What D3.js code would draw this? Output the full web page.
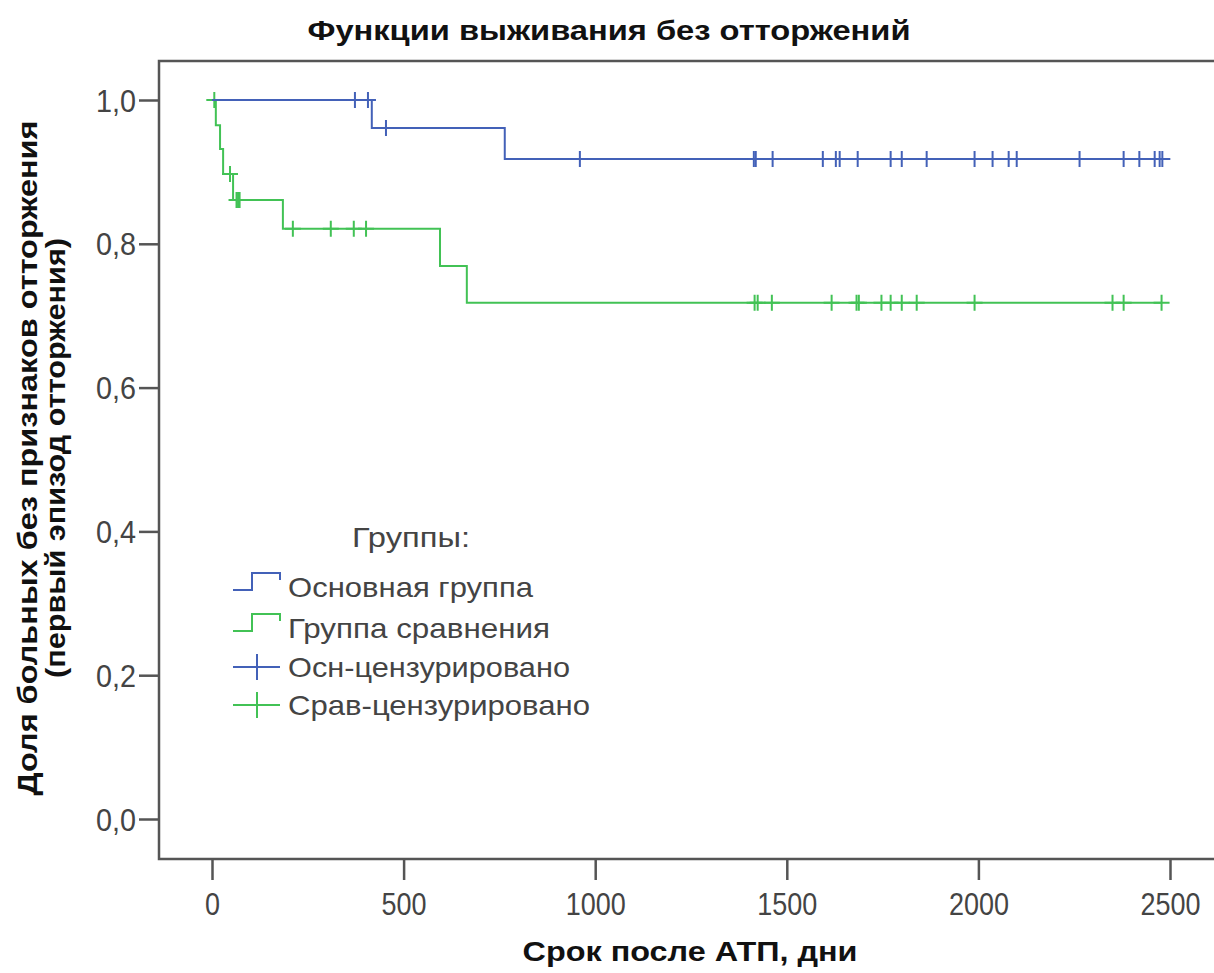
<!DOCTYPE html>
<html>
<head>
<meta charset="utf-8">
<script src="https://cdn.jsdelivr.net/npm/d3@7"></script>
<style>
  body { margin:0; background:#fff; }
  svg { display:block; font-family:"Liberation Sans", Arial, sans-serif; }
</style>
</head>
<body>
<svg id="chart" width="1214" height="973"></svg>
<script>
// data
var xTicks = [0, 500, 1000, 1500, 2000, 2500]
var yTicks = [0, 0.2, 0.4, 0.6, 0.8, 1.0]

// Основная группа
var mainTimes = [0, 417, 764]
var mainSurv = [1.0, 0.961, 0.918]
var mainEnd = 2485
var mainCensored = [373, 407, 454, 960, 1414, 1419, 1463, 1594, 1628, 1638, 1685, 1771, 1800, 1865,
  1990, 2037, 2079, 2100, 2264, 2379, 2420, 2460, 2473, 2480]

// Группа сравнения
var compTimes = [0, 10, 21, 29, 55, 185, 595, 665]
var compSurv = [1.0, 0.965, 0.932, 0.897, 0.861, 0.821, 0.769, 0.718]
var compEnd = 2478
var compCensored = [6, 47, 64, 68, 72, 211, 310, 370, 402, 1416, 1424, 1461, 1617, 1682, 1688,
  1747, 1771, 1800, 1839, 1990, 2350, 2379, 2478]

var legendLabels = ["Основная группа", "Группа сравнения", "Осн-цензурировано", "Срав-цензурировано"]
var blue = "#4361b8", green = "#42c255"

var svg = d3.select("#chart")
var frame = {left:159, top:61, bottom:859}

var xScale = d3.scaleLinear().domain([0, 2500]).range([212, 1170])
var yScale = d3.scaleLinear().domain([0, 1]).range([819, 100])

// frame (right side runs off the picture)
svg.append("path")
  .attr("d", "M1230," + frame.top + "H" + frame.left + "V" + frame.bottom + "H1230")
  .attr("fill", "none").attr("stroke", "#555").attr("stroke-width", 2.5)

var fmt = function(d){ return d3.format(".1f")(d).replace(".", ",") }

var yAxis = svg.append("g")
  .attr("transform", "translate(" + frame.left + ",0)")
  .call(d3.axisLeft(yScale).tickValues(yTicks).tickSize(20).tickPadding(3).tickFormat(fmt))
var xAxis = svg.append("g")
  .attr("transform", "translate(0," + frame.bottom + ")")
  .call(d3.axisBottom(xScale).tickValues(xTicks).tickSize(21).tickPadding(11).tickFormat(d3.format("d")))

;[yAxis, xAxis].forEach(function(a){
  a.select(".domain").remove()
  a.selectAll("line").attr("stroke", "#555").attr("stroke-width", 2.5)
  a.selectAll("text").attr("fill", "#444").attr("font-size", 31)
    .attr("font-family", "Liberation Sans, Arial, sans-serif")
})
yAxis.selectAll("text").attr("dy", "0.36em")
xAxis.selectAll("text").attr("dy", "0.76em")
// slightly condensed like the original
yAxis.selectAll("text").attr("textLength", 40).attr("lengthAdjust", "spacingAndGlyphs")
xAxis.selectAll("text").each(function(d){
  var n = String(d).length
  d3.select(this).attr("textLength", n * 15).attr("lengthAdjust", "spacingAndGlyphs")
})

var line = d3.line()
  .x(function(d){ return xScale(d[0]) })
  .y(function(d){ return yScale(d[1]) })
  .curve(d3.curveStepAfter)

function stepPoints(times, surv, end){
  var pts = times.map(function(t, i){ return [t, surv[i]] })
  pts.push([end, surv[surv.length - 1]])
  return pts
}
function survAt(times, surv, t){
  var s = surv[0]
  for (var i = 0; i < times.length; i++) if (times[i] <= t) s = surv[i]
  return s
}

function drawCurve(times, surv, end, censored, color){
  svg.append("path")
    .datum(stepPoints(times, surv, end))
    .attr("fill", "none").attr("stroke", color).attr("stroke-width", 2)
    .attr("d", line)
  var c = svg.append("g").selectAll("g").data(censored).enter().append("g")
    .attr("transform", function(d){ return "translate(" + xScale(d) + "," + yScale(survAt(times, surv, d)) + ")" })
  c.append("path").attr("d", "M-8,0H8M0,-8V8")
    .attr("stroke", color).attr("stroke-width", 2).attr("fill", "none")
}

drawCurve(compTimes, compSurv, compEnd, compCensored, green)
drawCurve(mainTimes, mainSurv, mainEnd, mainCensored, blue)

// titles
svg.append("text").attr("x", 609).attr("y", 40).attr("text-anchor", "middle")
  .attr("font-weight", "bold").attr("font-size", 28).attr("fill", "#111")
  .attr("textLength", 603).attr("lengthAdjust", "spacingAndGlyphs")
  .text("Функции выживания без отторжений")
svg.append("text").attr("x", 690).attr("y", 961).attr("text-anchor", "middle")
  .attr("font-weight", "bold").attr("font-size", 28).attr("fill", "#111")
  .attr("textLength", 335).attr("lengthAdjust", "spacingAndGlyphs")
  .text("Срок после АТП, дни")
svg.append("text").attr("transform", "translate(37,458)rotate(-90)").attr("text-anchor", "middle")
  .attr("font-weight", "bold").attr("font-size", 28).attr("fill", "#111")
  .attr("textLength", 675).attr("lengthAdjust", "spacingAndGlyphs")
  .text("Доля больных без признаков отторжения")
svg.append("text").attr("transform", "translate(65,458)rotate(-90)").attr("text-anchor", "middle")
  .attr("font-weight", "bold").attr("font-size", 28).attr("fill", "#111")
  .attr("textLength", 440).attr("lengthAdjust", "spacingAndGlyphs")
  .text("(первый эпизод отторжения)")

// legend
var lg = svg.append("g")
lg.append("text").attr("x", 352).attr("y", 547).attr("font-size", 28).attr("fill", "#444")
  .attr("textLength", 118).attr("lengthAdjust", "spacingAndGlyphs").text("Группы:")
var legY = [597, 638, 677, 715]
var legW = [245, 262, 282, 302]
var legColors = [blue, green, blue, green]
legendLabels.forEach(function(lbl, i){
  lg.append("text").attr("x", 288).attr("y", legY[i]).attr("font-size", 28).attr("fill", "#444")
    .attr("textLength", legW[i]).attr("lengthAdjust", "spacingAndGlyphs").text(lbl)
  var cy = legY[i] - 10
  var sym = i < 2 ? "M233," + (cy + 3) + "H252V" + (cy - 14) + "H280V" + (cy - 7)
                  : "M233," + cy + "H280M257," + (cy - 13) + "V" + (cy + 13)
  lg.append("path").attr("d", sym).attr("fill", "none")
    .attr("stroke", legColors[i]).attr("stroke-width", 2)
})
</script>
</body>
</html>
